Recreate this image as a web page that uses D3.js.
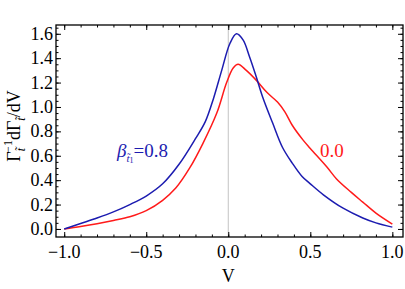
<!DOCTYPE html>
<html>
<head>
<meta charset="utf-8">
<script src="https://cdn.jsdelivr.net/npm/d3@7"></script>
<style>
  body { margin: 0; background: #fff; }
  svg { display: block; }
</style>
</head>
<body>
<div class="svg-container"></div>
<script>
// values
var vBlue = [-1.0, -0.9, -0.8, -0.7, -0.6, -0.5, -0.4, -0.3, -0.2, -0.14, -0.09, -0.04, 0.01, 0.05, 0.09, 0.13, 0.17, 0.21, 0.27, 0.33, 0.39, 0.45, 0.5, 0.58, 0.7, 0.82, 0.9, 1.0];
var rateBlue = [0.0, 0.045, 0.09, 0.14, 0.2, 0.27, 0.37, 0.53, 0.74, 0.88, 1.07, 1.30, 1.52, 1.60, 1.55, 1.41, 1.25, 1.08, 0.87, 0.67, 0.54, 0.43, 0.37, 0.28, 0.17, 0.09, 0.05, 0.015];

var vRed = [-1.0, -0.9, -0.8, -0.7, -0.6, -0.5, -0.4, -0.32, -0.235, -0.155, -0.07, -0.01, 0.03, 0.06, 0.11, 0.17, 0.235, 0.3, 0.345, 0.39, 0.455, 0.5, 0.6, 0.66, 0.75, 0.82, 0.9, 1.0];
var rateRed = [0.0, 0.02, 0.043, 0.07, 0.10, 0.15, 0.235, 0.335, 0.50, 0.70, 0.95, 1.20, 1.32, 1.35, 1.30, 1.22, 1.12, 1.04, 0.96, 0.85, 0.73, 0.66, 0.51, 0.41, 0.30, 0.22, 0.13, 0.04];

var xTicks = [-1.0, -0.5, 0.0, 0.5, 1.0];
var yTicks = [0.0, 0.2, 0.4, 0.6, 0.8, 1.0, 1.2, 1.4, 1.6];

var width = 405, height = 289;
var frameL = 56, frameR = 403, frameT = 25, frameB = 237;
var blue = "#1c1cb0", red = "#ff1a1a";
var fontSize = 18;

var svg = d3.select(".svg-container").append("svg")
  .attr("width", width)
  .attr("height", height)
  .attr("font-family", "'Liberation Serif', 'Times New Roman', Times, serif");

var x = d3.scaleLinear().domain([-1.05, 1.065]).range([frameL, frameR]);
var y = d3.scaleLinear().domain([-0.066, 1.672]).range([frameB, frameT]);

// gray line at V = 0
svg.append("line")
  .attr("x1", x(0)).attr("x2", x(0))
  .attr("y1", frameB).attr("y2", frameT)
  .attr("stroke", "#c4c4c4")
  .attr("stroke-width", 1);

function series(vs, rs) {
  return vs.map(function(v, i) { return [v, rs[i]]; });
}

var line = d3.line()
  .x(function(d) { return x(d[0]); })
  .y(function(d) { return y(d[1]); })
  .curve(d3.curveCatmullRom.alpha(0.5));

svg.append("path")
  .attr("d", line(series(vRed, rateRed)))
  .attr("fill", "none")
  .attr("stroke", red)
  .attr("stroke-width", 1.5);

svg.append("path")
  .attr("d", line(series(vBlue, rateBlue)))
  .attr("fill", "none")
  .attr("stroke", blue)
  .attr("stroke-width", 1.5);

// frame with ticks on all four sides, pointing inward
var xMinor = d3.range(-10, 11).map(function(i) { return i / 10; });
var yMinor = d3.range(0, 34).map(function(i) { return i / 20; });

function addTicks(transform, axisFn, minor, major) {
  svg.append("g")
    .attr("transform", transform)
    .call(axisFn().tickValues(minor).tickSize(-2.5).tickFormat(""))
    .call(function(g) { g.select(".domain").remove(); });
  svg.append("g")
    .attr("transform", transform)
    .call(axisFn().tickValues(major).tickSize(-5).tickFormat(""))
    .call(function(g) { g.select(".domain").remove(); });
}

addTicks("translate(0," + frameB + ")", function() { return d3.axisBottom(x); }, xMinor, xTicks);
addTicks("translate(0," + frameT + ")", function() { return d3.axisTop(x); }, xMinor, xTicks);
addTicks("translate(" + frameL + ",0)", function() { return d3.axisLeft(y); }, yMinor, yTicks);
addTicks("translate(" + frameR + ",0)", function() { return d3.axisRight(y); }, yMinor, yTicks);

svg.selectAll(".tick line").attr("stroke", "#000").attr("stroke-width", 1);

svg.append("rect")
  .attr("x", frameL).attr("y", frameT)
  .attr("width", frameR - frameL).attr("height", frameB - frameT)
  .attr("fill", "none")
  .attr("stroke", "#000")
  .attr("stroke-width", 1.3);

// tick labels
function fmt(d) { return d3.format(".1f")(d).replace("-", "\u2212"); }

svg.selectAll("text.xlab")
  .data(xTicks)
  .enter().append("text")
  .attr("class", "xlab")
  .attr("x", function(d) { return x(d); })
  .attr("y", 258)
  .attr("text-anchor", "middle")
  .attr("font-size", fontSize)
  .text(fmt);

svg.selectAll("text.ylab")
  .data(yTicks)
  .enter().append("text")
  .attr("class", "ylab")
  .attr("x", 53)
  .attr("y", function(d) { return y(d) + 6; })
  .attr("text-anchor", "end")
  .attr("font-size", fontSize)
  .text(fmt);

// axis titles
svg.append("text")
  .attr("x", x(0))
  .attr("y", 282)
  .attr("text-anchor", "middle")
  .attr("font-size", fontSize)
  .text("V");

var yTitle = svg.append("text")
  .attr("transform", "translate(20,126) rotate(-90)")
  .attr("text-anchor", "middle")
  .attr("font-size", fontSize);
yTitle.append("tspan").text("\u0393");
yTitle.append("tspan").attr("font-size", 12).attr("font-style", "italic").attr("dy", 5).text("t\u0303");
yTitle.append("tspan").attr("font-size", 12).attr("dx", -5).attr("dy", -13).text("\u22121");
yTitle.append("tspan").attr("dy", 8).text("d\u0393");
yTitle.append("tspan").attr("font-size", 12).attr("font-style", "italic").attr("dy", 5).text("t\u0303");
yTitle.append("tspan").attr("dy", -5).text("/dV");

// curve labels
var bLab = svg.append("text")
  .attr("x", 117)
  .attr("y", 157)
  .attr("fill", blue)
  .attr("font-size", 19);
bLab.append("tspan").attr("font-style", "italic").text("\u03b2");
bLab.append("tspan").attr("font-size", 11).attr("font-style", "italic").attr("dy", 5).text("t\u0303");
bLab.append("tspan").attr("font-size", 8).attr("dy", 1).text("1");
bLab.append("tspan").attr("dy", -6).text("=0.8");

svg.append("text")
  .attr("x", 320)
  .attr("y", 157)
  .attr("fill", red)
  .attr("font-size", 19)
  .text("0.0");
</script>
</body>
</html>
